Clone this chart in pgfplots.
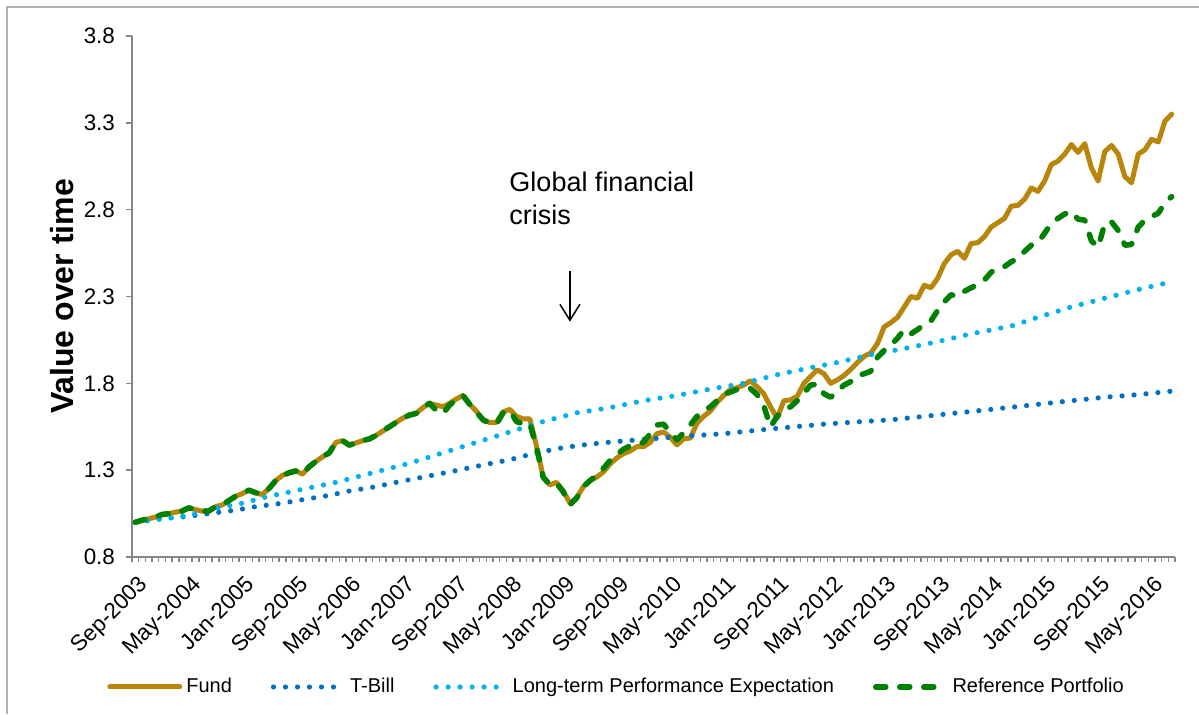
\documentclass[border=0pt]{standalone}
\usepackage{fontspec}
\setmainfont{Liberation Sans}
\usepackage{pgfplots}
\usepackage{pgfplotstable}
\pgfplotsset{compat=1.18}
\usetikzlibrary{arrows.meta}
\definecolor{fundc}{RGB}{184,134,11}
\definecolor{tbillc}{RGB}{0,112,192}
\definecolor{ltpec}{RGB}{0,176,240}
\definecolor{refc}{RGB}{0,128,0}
\definecolor{axgray}{RGB}{134,134,134}

\pgfplotstableread{
x y
0 1.000
1 1.012
2 1.020
3 1.030
4 1.045
5 1.050
6 1.058
7 1.065
8 1.083
9 1.073
10 1.064
11 1.065
12 1.090
13 1.100
14 1.125
15 1.150
16 1.165
17 1.185
18 1.170
19 1.160
20 1.195
21 1.240
22 1.270
23 1.285
24 1.296
25 1.277
26 1.320
27 1.350
28 1.377
29 1.400
30 1.460
31 1.470
32 1.444
33 1.457
34 1.470
35 1.480
36 1.500
37 1.525
38 1.550
39 1.575
40 1.600
41 1.617
42 1.627
43 1.660
44 1.685
45 1.675
46 1.665
47 1.685
48 1.710
49 1.730
50 1.680
51 1.640
52 1.590
53 1.575
54 1.575
55 1.635
56 1.650
57 1.610
58 1.595
59 1.595
60 1.440
61 1.260
62 1.215
63 1.230
64 1.180
65 1.110
66 1.140
67 1.205
68 1.240
69 1.260
70 1.290
71 1.335
72 1.370
73 1.395
74 1.410
75 1.435
76 1.435
77 1.460
78 1.510
79 1.520
80 1.490
81 1.445
82 1.480
83 1.485
84 1.570
85 1.610
86 1.640
87 1.690
88 1.730
89 1.765
90 1.775
91 1.790
92 1.815
93 1.780
94 1.740
95 1.665
96 1.600
97 1.700
98 1.705
99 1.725
100 1.800
101 1.840
102 1.877
103 1.855
104 1.800
105 1.820
106 1.845
107 1.880
108 1.920
109 1.955
110 1.975
111 2.030
112 2.125
113 2.150
114 2.180
115 2.240
116 2.300
117 2.290
118 2.365
119 2.350
120 2.405
121 2.490
122 2.540
123 2.560
124 2.520
125 2.605
126 2.610
127 2.645
128 2.700
129 2.725
130 2.750
131 2.820
132 2.825
133 2.860
134 2.925
135 2.905
136 2.965
137 3.060
138 3.080
139 3.120
140 3.175
141 3.130
142 3.180
143 3.040
144 2.965
145 3.135
146 3.170
147 3.120
148 2.990
149 2.955
150 3.120
151 3.145
152 3.205
153 3.190
154 3.310
155 3.350
}\fundtable

\pgfplotstableread{
x y
0 1.000
1 1.012
2 1.020
3 1.030
4 1.045
5 1.050
6 1.058
7 1.065
8 1.083
9 1.073
10 1.064
11 1.065
12 1.090
13 1.100
14 1.125
15 1.150
16 1.165
17 1.185
18 1.170
19 1.160
20 1.195
21 1.240
22 1.270
23 1.285
24 1.296
25 1.277
26 1.320
27 1.350
28 1.377
29 1.400
30 1.460
31 1.470
32 1.444
33 1.457
34 1.470
35 1.480
36 1.500
37 1.525
38 1.550
39 1.575
40 1.600
41 1.617
42 1.627
43 1.660
44 1.685
45 1.645
46 1.625
47 1.675
48 1.705
49 1.730
50 1.680
51 1.635
52 1.590
53 1.570
54 1.565
55 1.630
56 1.645
57 1.580
58 1.565
59 1.570
60 1.430
61 1.260
62 1.215
63 1.225
64 1.175
65 1.100
66 1.140
67 1.205
68 1.240
69 1.270
70 1.310
71 1.355
72 1.390
73 1.420
74 1.440
75 1.450
76 1.460
77 1.510
78 1.560
79 1.565
80 1.520
81 1.475
82 1.515
83 1.560
84 1.610
85 1.640
86 1.665
87 1.700
88 1.735
89 1.750
90 1.765
91 1.772
92 1.770
93 1.735
94 1.670
95 1.550
96 1.610
97 1.645
98 1.665
99 1.700
100 1.745
101 1.790
102 1.795
103 1.740
104 1.720
105 1.755
106 1.790
107 1.810
108 1.845
109 1.855
110 1.870
111 1.950
112 1.990
113 2.020
114 2.060
115 2.110
116 2.085
117 2.110
118 2.140
119 2.160
120 2.220
121 2.270
122 2.310
123 2.300
124 2.330
125 2.350
126 2.370
127 2.395
128 2.440
129 2.460
130 2.472
131 2.500
132 2.520
133 2.560
134 2.595
135 2.610
136 2.665
137 2.720
138 2.750
139 2.775
140 2.790
141 2.745
142 2.740
143 2.620
144 2.585
145 2.720
146 2.730
147 2.680
148 2.595
149 2.600
150 2.700
151 2.740
152 2.760
153 2.780
154 2.840
155 2.875
}\reftable

\pgfplotstableread{
x y
0 1.000
4 1.020
8 1.035
11 1.050
15 1.070
18 1.090
22 1.110
25 1.130
29 1.155
32 1.180
36 1.205
39 1.230
43 1.260
47 1.290
52 1.330
56 1.360
60 1.400
64 1.430
68 1.450
72 1.465
77 1.480
82 1.495
88 1.510
93 1.530
98 1.548
103 1.565
108 1.578
113 1.590
118 1.610
123 1.630
128 1.650
134 1.675
140 1.700
145 1.720
150 1.735
155 1.755
}\tbilltable

\pgfplotstableread{
x y
0 1.000
4 1.020
8 1.040
12 1.080
16 1.110
20 1.150
25 1.190
30 1.230
35 1.280
41 1.340
46 1.400
51 1.460
56 1.520
61 1.580
66 1.630
71 1.660
76 1.700
81 1.730
86 1.767
91 1.800
96 1.850
101 1.890
105 1.920
110 1.965
115 2.000
120 2.040
125 2.085
131 2.130
135 2.180
140 2.240
145 2.290
150 2.340
155 2.385
}\ltpetable

\begin{document}
\begin{tikzpicture}[x=1pt,y=1pt]
\path[use as bounding box] (0,0) rectangle (599.5,357);
\draw[gray!60, line width=0.75pt] (3.5,0) -- (3.5,353.5) -- (599.5,353.5);
\begin{axis}[
  at={(66pt,78.5pt)}, anchor=south west,
  width=521.5pt, height=260.5pt, scale only axis,
  xmin=-0.5, xmax=155.5, ymin=0.8, ymax=3.8,
  axis lines=left,
  axis line style={-, axgray, line width=0.75pt},
  tick align=outside,
  major tick length=3pt, minor tick length=2.5pt,
  ytick={0.8,1.3,1.8,2.3,2.8,3.3,3.8},
  y tick style={axgray, line width=0.75pt},
  yticklabel style={xshift=-2pt, /pgf/number format/.cd, fixed, fixed zerofill, precision=1},
  /pgf/number format/assume math mode=true,
  xtick={0,8,...,152},
  xticklabels={Sep-2003,May-2004,Jan-2005,Sep-2005,May-2006,Jan-2007,Sep-2007,May-2008,Jan-2009,Sep-2009,May-2010,Jan-2011,Sep-2011,May-2012,Jan-2013,Sep-2013,May-2014,Jan-2015,Sep-2015,May-2016},
  major x tick style={draw=none},
  minor xtick={-0.5,0.5,...,155.5},
  minor x tick style={axgray, line width=0.75pt},
  xticklabel style={rotate=45, anchor=north east, inner sep=1.5pt, xshift=-1.5pt, yshift=-3pt},
  every tick label/.append style={font=\fontsize{11.2}{13}\selectfont},
  ylabel={Value over time},
  every axis y label/.style={at={(axis description cs:-0.067,0.5)}, rotate=90, anchor=center, font=\fontsize{16}{19}\selectfont\bfseries},
  legend columns=4,
  legend style={at={(axis description cs:0.4655,-0.2495)}, anchor=center, draw=none, fill=none,
    font=\fontsize{10}{12}\selectfont,
    /tikz/every even column/.append style={column sep=17.5pt}},
  legend image code/.code={\draw[#1] (0pt,0pt) -- (35pt,0pt);},
  no markers,
]
\addplot[color=fundc, line width=2.5pt, line join=round, line cap=round] table[x=x,y=y] {\fundtable};
\addlegendentry{Fund}
\addplot[color=tbillc, line width=2.6pt, line cap=round, dash pattern=on 0pt off 6pt] table[x=x,y=y] {\tbilltable};
\addlegendentry{T-Bill}
\addplot[color=ltpec, line width=2.6pt, line cap=round, dash pattern=on 0pt off 6pt] table[x=x,y=y] {\ltpetable};
\addlegendentry{Long-term Performance Expectation}
\addplot[color=refc, line width=2.75pt, line join=round, line cap=round, dash pattern=on 5pt off 7pt] table[x=x,y=y] {\reftable};
\addlegendentry{Reference Portfolio}
\node[anchor=north west, inner sep=0pt, align=left, font=\fontsize{13.5}{16.5}\selectfont] at (axis cs:55.9,3.02) {Global financial\\crisis};
\draw[line width=0.75pt, -{Straight Barb[length=8pt,width=10pt]}] (axis cs:65,2.444) -- (axis cs:65,2.155);
\end{axis}
\end{tikzpicture}
\end{document}
